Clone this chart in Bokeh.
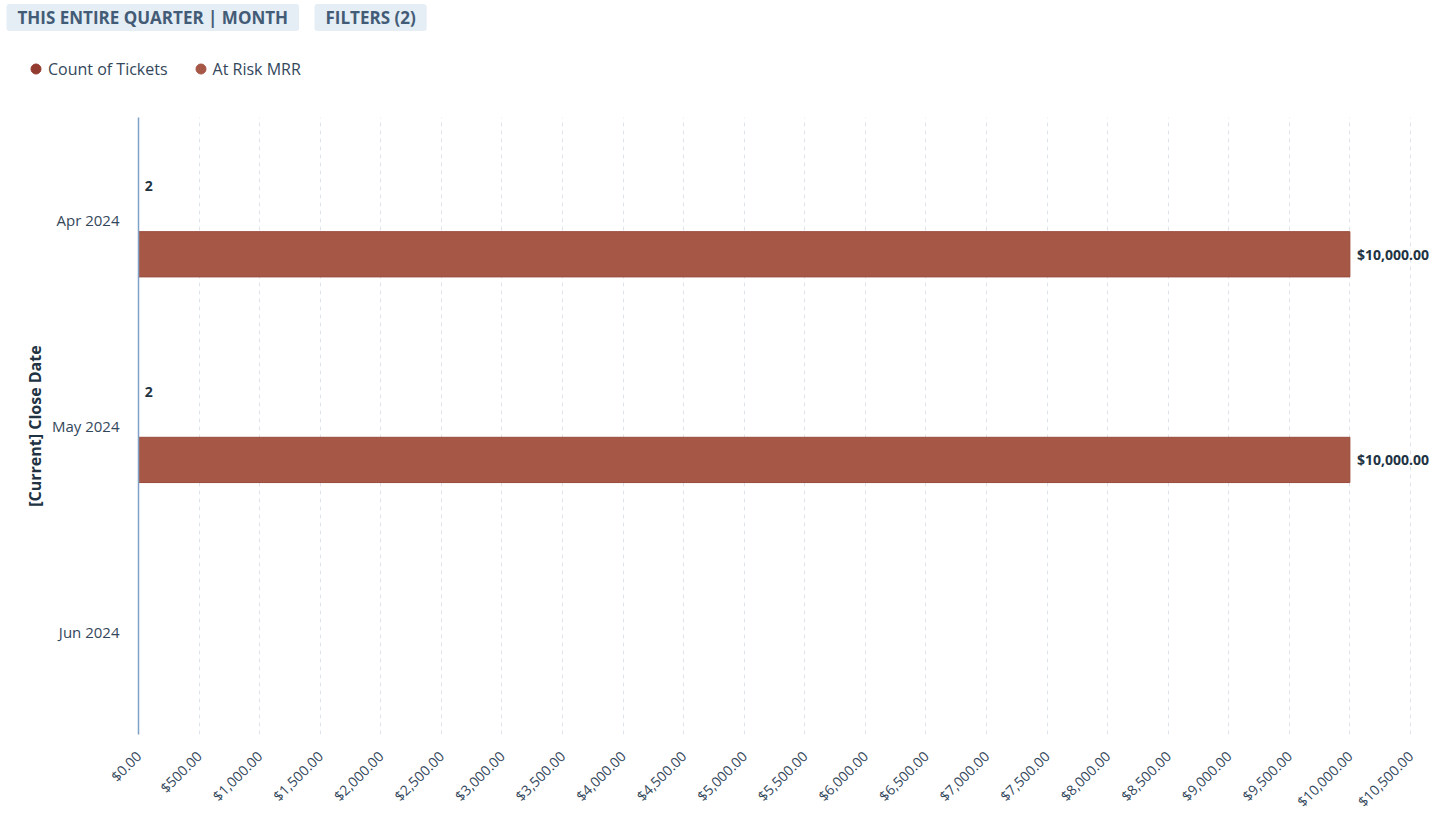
import math
from bokeh.plotting import figure
from bokeh.layouts import column
from bokeh.models import (FactorRange, Range1d, ColumnDataSource, LabelSet, Label,
                          Legend, LegendItem, NumeralTickFormatter, FixedTicker)
from bokeh.transform import dodge
from bokeh.core.properties import value
from bokeh.embed import file_html
from bokeh.resources import INLINE

# ---- data ----
months = ["Apr 2024", "May 2024", "Jun 2024"]
bar_months = ["Apr 2024", "May 2024"]
ticket_counts = [2, 2]
at_risk_mrr = [10000.0, 10000.0]
x_ticks = [i * 500 for i in range(22)]
series_names = ["Count of Tickets", "At Risk MRR"]
filter_buttons = ["THIS ENTIRE QUARTER | MONTH", "FILTERS (2)"]

FONT = "Open Sans"
COUNT_COLOR = "#923b2e"
MRR_COLOR = "#a65745"
TEXT = "#33475b"
DARK = "#213343"
W = 1440
HEADER_H = 117

# ---------------- header (filter buttons + legend) ----------------
hdr = figure(width=W, height=HEADER_H, output_backend="svg", toolbar_location=None,
             x_range=Range1d(0, W), y_range=Range1d(HEADER_H, 0),
             min_border=0, min_border_left=0, min_border_right=0,
             min_border_top=0, min_border_bottom=0)
hdr.frame_align = False
hdr.axis.visible = False
hdr.grid.grid_line_color = None
hdr.outline_line_color = None

btn_x = [6, 314]
for txt, bx in zip(filter_buttons, btn_x):
    hdr.add_layout(Label(x=bx, y=17, text=txt, text_baseline="middle", text_align="left",
                         text_font=FONT, text_font_style="bold", text_font_size="17px",
                         text_color="#425b76", background_fill_color="#e5edf5",
                         padding=(11, 2), border_radius=3))

# hidden placeholder points (outside the visible range) only feed the legend glyphs
d1 = hdr.scatter(x=[-50], y=[-50], marker="circle", size=10, fill_color=COUNT_COLOR, line_color=COUNT_COLOR)
d2 = hdr.scatter(x=[-50], y=[-50], marker="circle", size=10, fill_color=MRR_COLOR, line_color=MRR_COLOR)
legend = Legend(items=[LegendItem(label=series_names[0], renderers=[d1]),
                       LegendItem(label=series_names[1], renderers=[d2])],
                orientation="horizontal", location=(23, 36),
                glyph_width=25, glyph_height=25, label_standoff=0, spacing=20,
                padding=0, margin=0, border_line_color=None, background_fill_alpha=0,
                label_text_font=FONT, label_text_font_size="16px", label_text_color=TEXT)
hdr.add_layout(legend, "center")

# ---------------- main chart ----------------
src = ColumnDataSource(dict(
    month=bar_months,
    count=ticket_counts,
    mrr=at_risk_mrr,
    count_txt=[str(c) for c in ticket_counts],
    mrr_txt=["${:,.2f}".format(v) for v in at_risk_mrr],
))

p = figure(width=W, height=703, output_backend="svg", toolbar_location=None,
           y_range=FactorRange(*reversed(months), range_padding=0),
           x_range=Range1d(0, 10748),
           min_border_left=138, min_border_right=0, min_border_top=0, min_border_bottom=82)
p.frame_align = False
p.outline_line_color = None

# bars
p.hbar(y=dodge("month", 0.167, range=p.y_range), right="count", left=0, height=0.22,
       source=src, fill_color=COUNT_COLOR, line_color=None)
p.hbar(y=dodge("month", -0.165, range=p.y_range), right="mrr", left=0, height=0.22,
       source=src, fill_color=MRR_COLOR, line_color="#9a4b3c", line_width=1)

# value labels
p.add_layout(LabelSet(x="count", y=dodge("month", 0.167, range=p.y_range), text="count_txt",
                      source=src, x_offset=6, text_baseline="middle",
                      text_font=value(FONT), text_font_style="bold", text_font_size="14px",
                      text_color=DARK))
p.add_layout(LabelSet(x="mrr", y=dodge("month", -0.165, range=p.y_range), text="mrr_txt",
                      source=src, x_offset=7, text_baseline="middle",
                      text_font=value(FONT), text_font_style="bold", text_font_size="14px",
                      text_color=DARK))

# axes
xa = p.xaxis[0]
xa.ticker = FixedTicker(ticks=x_ticks)
xa.formatter = NumeralTickFormatter(format="$0,0.00")
xa.major_label_orientation = math.pi / 4
xa.axis_line_color = None
xa.major_tick_line_color = None
xa.minor_tick_line_color = None
xa.major_tick_out = 0
xa.minor_tick_out = 0
xa.major_label_text_font = FONT
xa.major_label_text_font_size = "14px"
xa.major_label_text_color = TEXT
xa.major_label_standoff = 19

ya = p.yaxis[0]
ya.axis_line_color = "#7fa0c8"
ya.axis_line_width = 1.5
ya.major_tick_line_color = None
ya.minor_tick_line_color = None
ya.major_tick_out = 0
ya.minor_tick_out = 0
ya.major_label_text_font = FONT
ya.major_label_text_font_size = "15px"
ya.major_label_text_color = TEXT
ya.major_label_standoff = 19
ya.axis_label = "[Current] Close Date"
ya.axis_label_text_font = FONT
ya.axis_label_text_font_style = "bold"
ya.axis_label_text_font_size = "16px"
ya.axis_label_text_color = DARK
ya.axis_label_standoff = 3

p.ygrid.grid_line_color = None
p.xgrid.grid_line_color = "#dfe4ec"
p.xgrid.grid_line_dash = "4 4"
p.xgrid.grid_line_width = 1

layout = column(hdr, p, spacing=0)
open("out.html", "w").write(file_html(layout, INLINE))
